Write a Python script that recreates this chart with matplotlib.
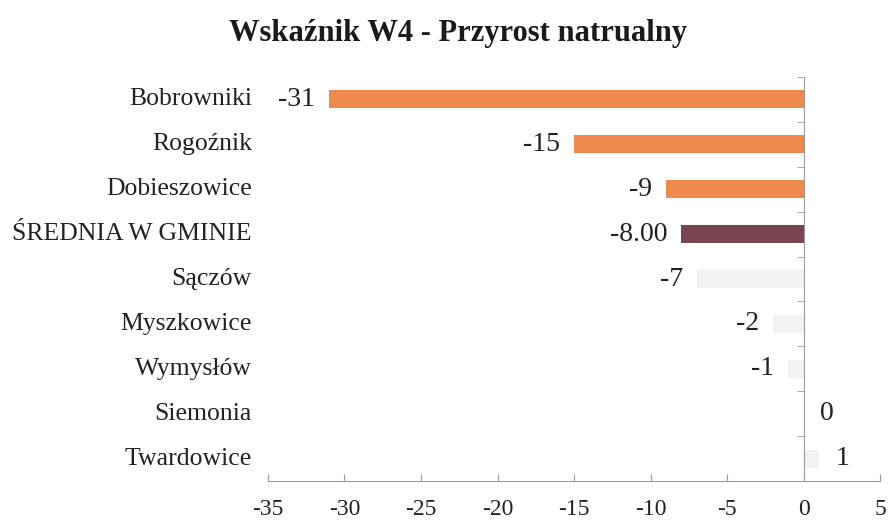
import numpy as np
import matplotlib
matplotlib.use('Agg')
import matplotlib.pyplot as plt
import matplotlib.transforms as mtransforms

# ------------------------------------------------------------
# data
# ------------------------------------------------------------
categories = ['Bobrowniki', 'Rogoźnik', 'Dobieszowice', 'ŚREDNIA W GMINIE',
              'Sączów', 'Myszkowice', 'Wymysłów', 'Siemonia', 'Twardowice']
values = [-31, -15, -9, -8.00, -7, -2, -1, 0, 1]
average_name = 'ŚREDNIA W GMINIE'
x_ticks = [-35, -30, -25, -20, -15, -10, -5, 0, 5]

ORANGE = '#EE8A4E'
MAROON = '#7A4551'
PALE = '#F2F2F2'
AXIS_GRAY = '#9A9A9A'
TEXT = '#222222'

plt.rcParams['font.family'] = ['Liberation Serif', 'DejaVu Serif']

fig = plt.figure(figsize=(8.9, 5.22), dpi=100)
ax = fig.add_axes([0.301, 0.0785, 0.688, 0.774])

y = np.arange(len(categories))
colors = []
for name, v in zip(categories, values):
    if name == average_name:
        colors.append(MAROON)
    elif v <= -9:
        colors.append(ORANGE)
    else:
        colors.append(PALE)

ax.barh(y, values, height=0.4, color=colors, zorder=2)

# value labels
for i, (name, v) in enumerate(zip(categories, values)):
    txt = f'{v:.2f}' if name == average_name else f'{v:g}'
    if v < 0:
        ax.annotate(txt, (v, i), xytext=(-10, 0), textcoords='offset points',
                    ha='right', va='center', fontsize=20, color=TEXT)
    else:
        ax.annotate(txt, (v, i), xytext=(12, 0), textcoords='offset points',
                    ha='left', va='center', fontsize=20, color=TEXT)

# category labels to the left of the plot area
trans = mtransforms.blended_transform_factory(ax.transAxes, ax.transData)
for i, name in enumerate(categories):
    ax.text(-0.026, i, name, transform=trans, ha='right', va='center',
            fontsize=18.5, color=TEXT)

ax.set_xlim(-35, 5)
ax.set_ylim(len(categories) - 0.5, -0.5)
ax.set_xticks(x_ticks)
ax.set_xticklabels([f'{t}' for t in x_ticks], fontsize=17, color=TEXT)

# vertical axis sits at x = 0, with marks between categories
ax.spines['left'].set_position(('data', 0))
ax.spines['left'].set_color(AXIS_GRAY)
ax.spines['bottom'].set_color(AXIS_GRAY)
ax.spines['top'].set_visible(False)
ax.spines['right'].set_visible(False)
ax.set_yticks(y)
ax.set_yticklabels([])
ax.tick_params(axis='y', which='major', length=0)
ax.set_yticks(np.arange(-0.5, len(categories)), minor=True)
ax.tick_params(axis='y', which='minor', length=5, direction='out', color=AXIS_GRAY)
ax.tick_params(axis='x', length=5, direction='in', color=AXIS_GRAY, pad=13)

fig.suptitle('Wskaźnik W4 - Przyrost natrualny', x=0.515, y=0.963,
             fontsize=22, fontweight='bold', color='#1a1a1a')

fig.savefig('out.png', dpi=100, facecolor='white')
